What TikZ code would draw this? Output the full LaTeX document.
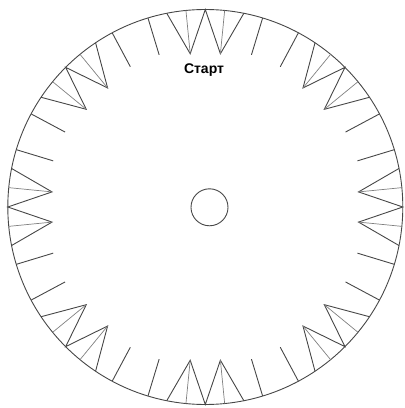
\documentclass[tikz,border=0pt]{standalone}
\usepackage{fontspec}
\setmainfont{Liberation Sans}

\begin{document}
\begin{tikzpicture}[
  x=1pt, y=1pt,
  rim/.style={draw=black!72, line width=0.9pt},
  tooth/.style={draw=black!72, line width=0.9pt, line join=miter},
  median/.style={draw=black!50, line width=0.7pt},
  tick/.style={draw=black!72, line width=0.9pt},
  label/.style={font=\fontsize{14}{16}\selectfont\bfseries, inner sep=1pt}
]
  \useasboundingbox (0,0) rectangle (405,408);
  \coordinate (c) at (205.3,201);

  % outer ring and hub
  \draw[rim] (c) circle[radius=197.5];
  \draw[rim] (209.5,200.7) circle[radius=18.5];

  % teeth and ticks, one group every 45 degrees
  \begin{scope}[shift={(c)}]
    \foreach \a in {0,45,...,315} {
      \draw[tooth] (\a+11.25:197.5) -- (\a+5.625:154) -- (\a:197.5)
                   -- (\a-5.625:154) -- (\a-11.25:197.5);
      \draw[median] (\a+5.625:154) -- (\a+5.625:197.5);
      \draw[median] (\a-5.625:154) -- (\a-5.625:197.5);
      \draw[tick] (\a+16.875:159) -- (\a+16.875:197.5);
      \draw[tick] (\a-16.875:159) -- (\a-16.875:197.5);
    }
  \end{scope}

  \node[label] (start) at (204,338) {Старт};
\end{tikzpicture}
\end{document}
